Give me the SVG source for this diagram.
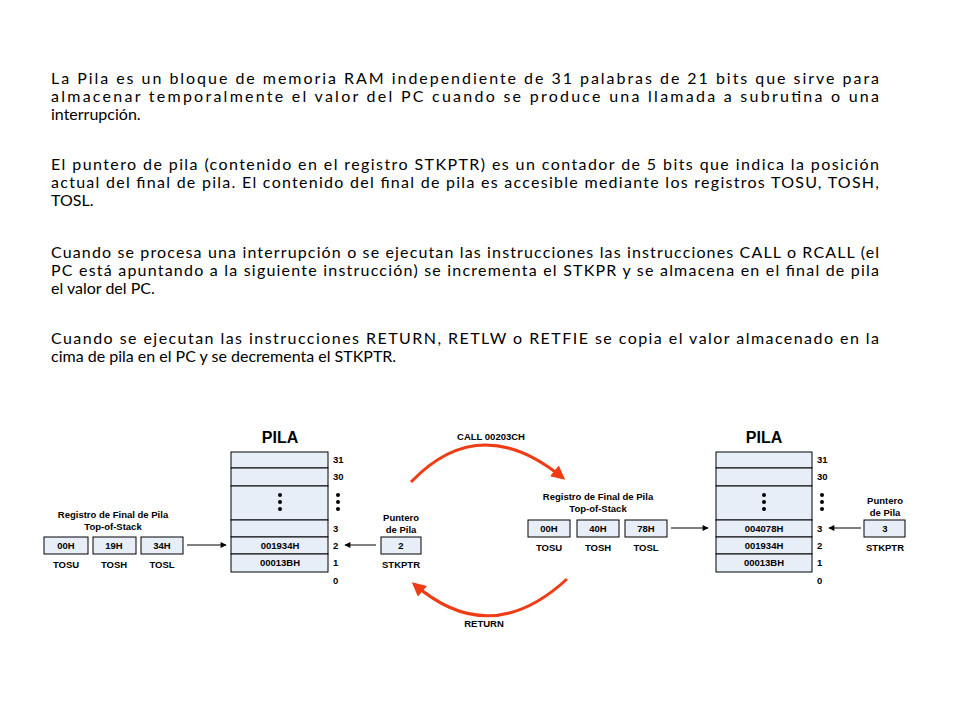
<svg xmlns="http://www.w3.org/2000/svg" width="960" height="720" viewBox="0 0 960 720">
<style>
.p{font-family:Lato,"Liberation Sans",sans-serif;font-size:16px;fill:#000}
.d{font-family:"Liberation Sans",Arial,sans-serif;font-size:9.5px;font-weight:bold;fill:#000;text-anchor:middle}
.n{font-family:"Liberation Sans",Arial,sans-serif;font-size:9.5px;font-weight:bold;fill:#000}
.t{font-family:"Liberation Sans",Arial,sans-serif;font-size:16px;font-weight:bold;fill:#000;text-anchor:middle}
.c{fill:#e8eef7;stroke:#000;stroke-width:1}
.a{stroke:#000;stroke-width:1;fill:none}
.r{stroke:#f03c14;stroke-width:3;fill:none}
</style>
<defs>
<marker id="ah" viewBox="0 0 10 10" refX="9" refY="5" markerWidth="9" markerHeight="6" orient="auto" markerUnits="userSpaceOnUse"><path d="M0,0L10,5L0,10z" fill="#000"/></marker>
<marker id="rh" viewBox="0 0 10 10" refX="8" refY="5" markerWidth="14" markerHeight="14" orient="auto" markerUnits="userSpaceOnUse"><path d="M0,0L10,5L0,10z" fill="#f03c14"/></marker>
</defs>
<g id="text">
<text class="p" x="51" y="84" textLength="828" lengthAdjust="spacing">La Pila es un bloque de memoria RAM independiente de 31 palabras de 21 bits que sirve para</text>
<text class="p" x="51" y="102" textLength="828" lengthAdjust="spacing">almacenar temporalmente el valor del PC cuando se produce una llamada a subrutina o una</text>
<text class="p" x="51" y="120">interrupción.</text>
<text class="p" x="51" y="170" textLength="828" lengthAdjust="spacing">El puntero de pila (contenido en el registro STKPTR) es un contador de 5 bits que indica la posición</text>
<text class="p" x="51" y="188" textLength="828" lengthAdjust="spacing">actual del final de pila. El contenido del final de pila es accesible mediante los registros TOSU, TOSH,</text>
<text class="p" x="51" y="206">TOSL.</text>
<text class="p" x="51" y="258" textLength="828" lengthAdjust="spacing">Cuando se procesa una interrupción o se ejecutan las instrucciones las instrucciones CALL o RCALL (el</text>
<text class="p" x="51" y="276" textLength="828" lengthAdjust="spacing">PC está apuntando a la siguiente instrucción) se incrementa el STKPR y se almacena en el final de pila</text>
<text class="p" x="51" y="294">el valor del PC.</text>
<text class="p" x="51" y="344" textLength="828" lengthAdjust="spacing">Cuando se ejecutan las instrucciones RETURN, RETLW o RETFIE se copia el valor almacenado en la</text>
<text class="p" x="51" y="362">cima de pila en el PC y se decrementa el STKPTR.</text>
</g>
<g id="pila-left">
<text class="t" x="280" y="443">PILA</text>
<rect class="c" x="231" y="452" width="97" height="16"/>
<rect class="c" x="231" y="468" width="97" height="18"/>
<rect class="c" x="231" y="486" width="97" height="34"/>
<rect class="c" x="231" y="520" width="97" height="17"/>
<rect class="c" x="231" y="537" width="97" height="17"/>
<rect class="c" x="231" y="554" width="97" height="18"/>
<circle cx="280" cy="495" r="2"/><circle cx="280" cy="502" r="2"/><circle cx="280" cy="509" r="2"/>
<text class="d" x="280" y="549">001934H</text>
<text class="d" x="280" y="566">00013BH</text>
<text class="n" x="333" y="463">31</text><text class="n" x="333" y="480">30</text>
<circle cx="338" cy="495" r="2"/><circle cx="338" cy="502" r="2"/><circle cx="338" cy="509" r="2"/>
<text class="n" x="333" y="532">3</text><text class="n" x="333" y="549">2</text><text class="n" x="333" y="566">1</text><text class="n" x="333" y="584">0</text>
</g>
<g id="tos-left">
<text class="d" x="113" y="518">Registro de Final de Pila</text>
<text class="d" x="113" y="530">Top-of-Stack</text>
<rect class="c" x="44" y="537" width="44" height="17"/><text class="d" x="66" y="549">00H</text><text class="d" x="66" y="568">TOSU</text>
<rect class="c" x="93" y="537" width="43" height="17"/><text class="d" x="114" y="549">19H</text><text class="d" x="114" y="568">TOSH</text>
<rect class="c" x="141" y="537" width="42" height="17"/><text class="d" x="162" y="549">34H</text><text class="d" x="162" y="568">TOSL</text>
</g>
<g id="stkptr-left">
<text class="d" x="401" y="521">Puntero</text><text class="d" x="401" y="533">de Pila</text>
<rect class="c" x="381" y="537" width="40" height="17"/><text class="d" x="401" y="549">2</text>
<text class="d" x="401" y="568">STKPTR</text>
</g>
<g id="pila-right">
<text class="t" x="764" y="443">PILA</text>
<rect class="c" x="716" y="452" width="96" height="16"/>
<rect class="c" x="716" y="468" width="96" height="18"/>
<rect class="c" x="716" y="486" width="96" height="34"/>
<rect class="c" x="716" y="520" width="96" height="17"/>
<rect class="c" x="716" y="537" width="96" height="17"/>
<rect class="c" x="716" y="554" width="96" height="18"/>
<circle cx="764" cy="495" r="2"/><circle cx="764" cy="502" r="2"/><circle cx="764" cy="509" r="2"/>
<text class="d" x="764" y="532">004078H</text>
<text class="d" x="764" y="549">001934H</text>
<text class="d" x="764" y="566">00013BH</text>
<text class="n" x="817" y="463">31</text><text class="n" x="817" y="480">30</text>
<circle cx="822" cy="495" r="2"/><circle cx="822" cy="502" r="2"/><circle cx="822" cy="509" r="2"/>
<text class="n" x="817" y="532">3</text><text class="n" x="817" y="549">2</text><text class="n" x="817" y="566">1</text><text class="n" x="817" y="584">0</text>
</g>
<g id="tos-right">
<text class="d" x="598" y="500">Registro de Final de Pila</text>
<text class="d" x="598" y="512">Top-of-Stack</text>
<rect class="c" x="528" y="520" width="42" height="17"/><text class="d" x="549" y="532">00H</text><text class="d" x="549" y="551">TOSU</text>
<rect class="c" x="577" y="520" width="42" height="17"/><text class="d" x="598" y="532">40H</text><text class="d" x="598" y="551">TOSH</text>
<rect class="c" x="625" y="520" width="42" height="17"/><text class="d" x="646" y="532">78H</text><text class="d" x="646" y="551">TOSL</text>
</g>
<g id="stkptr-right">
<text class="d" x="885" y="504">Puntero</text><text class="d" x="885" y="516">de Pila</text>
<rect class="c" x="864" y="520" width="41" height="17"/><text class="d" x="885" y="532">3</text>
<text class="d" x="885" y="551">STKPTR</text>
</g>
<g id="connectors">
<line class="a" x1="187" y1="545" x2="226" y2="545" marker-end="url(#ah)"/>
<line class="a" x1="376" y1="545" x2="345" y2="545" marker-end="url(#ah)"/>
<line class="a" x1="671" y1="528" x2="708" y2="528" marker-end="url(#ah)"/>
<line class="a" x1="861" y1="528" x2="829" y2="528" marker-end="url(#ah)"/>
<path class="r" d="M411,482 Q480,410 563,478" marker-end="url(#rh)"/>
<path class="r" d="M567,579 Q490,650 414,584" marker-end="url(#rh)"/>
<text class="d" x="491" y="440">CALL 00203CH</text>
<text class="d" x="484" y="627">RETURN</text>
</g>
</svg>
